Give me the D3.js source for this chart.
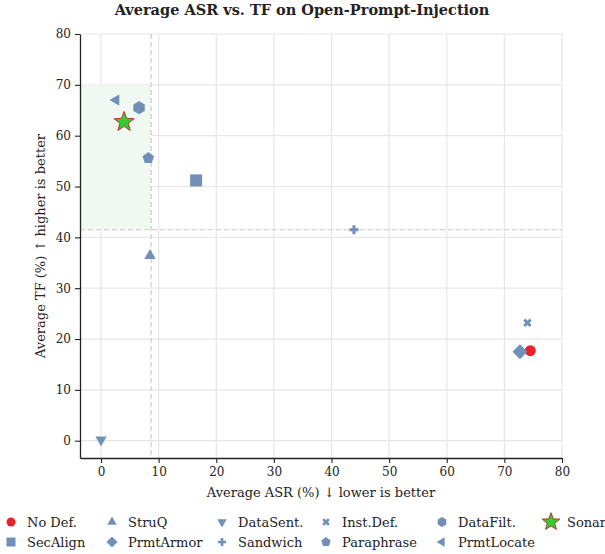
<!DOCTYPE html>
<html>
<head>
<meta charset="utf-8">
<script src="https://cdn.jsdelivr.net/npm/d3@7"></script>
<style>
  body { margin: 0; background: #fff; }
  svg text { font-family: "DejaVu Serif", serif; fill: #222; }
</style>
</head>
<body>
<div id="chart"></div>
<script>
const methods = ["No Def.", "StruQ", "DataSent.", "Inst.Def.", "DataFilt.", "Sonar",
                 "SecAlign", "PrmtArmor", "Sandwich", "Paraphrase", "PrmtLocate"];
const asr = [74.5, 8.5, 0.0, 74.0, 6.6, 4.0, 16.5, 72.7, 43.9, 8.2, 2.6];
const tf = [17.7, 36.4, 0.2, 23.2, 65.5, 62.7, 51.2, 17.5, 41.5, 55.6, 67.0];
const shapes = ["circle", "triUp", "triDown", "cross", "hexagon", "star",
                "square", "diamond", "plus", "pentagon", "triLeft"];
const xTicks = [0, 10, 20, 30, 40, 50, 60, 70, 80];
const yTicks = [0, 10, 20, 30, 40, 50, 60, 70, 80];
const thresholdAsr = 8.7;
const thresholdTf = 41.5;
const goodRegionTop = 70;

const W = 605, H = 554;
const steel = "#7090b8";

const svg = d3.select("#chart").append("svg")
  .attr("width", W).attr("height", H);

const x = d3.scaleLinear().domain([-3.65, 80]).range([80, 562]);
const y = d3.scaleLinear().domain([-3.4, 80]).range([458, 34]);

// grid
svg.append("g").selectAll("line").data(xTicks).enter().append("line")
  .attr("x1", d => x(d)).attr("x2", d => x(d))
  .attr("y1", y(80)).attr("y2", y(-3.4))
  .attr("stroke", "#e6e6e6").attr("stroke-width", 1.2);
svg.append("g").selectAll("line").data(yTicks).enter().append("line")
  .attr("x1", x(-3.65)).attr("x2", x(80))
  .attr("y1", d => y(d)).attr("y2", d => y(d))
  .attr("stroke", "#e6e6e6").attr("stroke-width", 1.2);

// good region
svg.append("rect")
  .attr("x", x(-3.65)).attr("y", y(goodRegionTop))
  .attr("width", x(thresholdAsr) - x(-3.65))
  .attr("height", y(thresholdTf) - y(goodRegionTop))
  .attr("fill", "#f1f8f1");

// threshold lines
svg.append("line")
  .attr("x1", x(thresholdAsr)).attr("x2", x(thresholdAsr))
  .attr("y1", y(80)).attr("y2", y(-3.4))
  .attr("stroke", "#cccccc").attr("stroke-dasharray", "5,3").attr("stroke-width", 1.2);
svg.append("line")
  .attr("x1", x(-3.65)).attr("x2", x(80))
  .attr("y1", y(thresholdTf)).attr("y2", y(thresholdTf))
  .attr("stroke", "#cccccc").attr("stroke-dasharray", "5,3").attr("stroke-width", 1.2);

// axes
const xAxis = svg.append("g").attr("transform", `translate(0,458)`)
  .call(d3.axisBottom(x).tickValues(xTicks).tickSize(5).tickSizeOuter(0).tickPadding(4));
const yAxis = svg.append("g").attr("transform", `translate(80,0)`)
  .call(d3.axisLeft(y).tickValues(yTicks).tickSize(5).tickSizeOuter(0).tickPadding(4));
[xAxis, yAxis].forEach(a => {
  a.selectAll("text").style("font-size", "12px").style("font-family", "DejaVu Serif");
  a.select(".domain").attr("stroke", "#222").attr("stroke-width", 1.3);
  a.selectAll(".tick line").attr("stroke", "#222").attr("stroke-width", 1.1);
});

// marker paths
function markerPath(shape, s) {
  const p = d3.path();
  const poly = (n, r, rot) => {
    for (let i = 0; i < n; i++) {
      const a = rot + i * 2 * Math.PI / n;
      const px = r * Math.cos(a), py = r * Math.sin(a);
      i === 0 ? p.moveTo(px, py) : p.lineTo(px, py);
    }
    p.closePath();
  };
  if (shape === "circle") { p.arc(0, 0, s * 0.5, 0, 2 * Math.PI); }
  else if (shape === "square") { p.rect(-s * 0.5, -s * 0.5, s, s); }
  else if (shape === "diamond") { poly(4, s * 0.62, 0); }
  else if (shape === "triUp") { poly(3, s * 0.6, -Math.PI / 2); }
  else if (shape === "triDown") { poly(3, s * 0.6, Math.PI / 2); }
  else if (shape === "triLeft") { poly(3, s * 0.6, Math.PI); }
  else if (shape === "hexagon") { poly(6, s * 0.55, -Math.PI / 2); }
  else if (shape === "pentagon") { poly(5, s * 0.55, -Math.PI / 2); }
  else if (shape === "star") {
    for (let i = 0; i < 10; i++) {
      const r = i % 2 === 0 ? s * 0.62 : s * 0.26;
      const a = -Math.PI / 2 + i * Math.PI / 5;
      i === 0 ? p.moveTo(r * Math.cos(a), r * Math.sin(a)) : p.lineTo(r * Math.cos(a), r * Math.sin(a));
    }
    p.closePath();
  }
  return p.toString();
}

function drawMarker(g, shape, s) {
  if (shape === "cross" || shape === "plus") {
    const h = s * 0.45;
    const rot = shape === "cross" ? 45 : 0;
    g.append("path")
      .attr("d", `M${-h},0L${h},0M0,${-h}L0,${h}`)
      .attr("transform", `rotate(${rot})`)
      .attr("stroke", steel).attr("stroke-width", s * 0.3).attr("fill", "none");
    return;
  }
  const el = g.append("path").attr("d", markerPath(shape, s));
  if (shape === "circle") el.attr("fill", "#e8232a");
  else if (shape === "star") el.attr("fill", "#33cc33").attr("stroke", "#b03a2e").attr("stroke-width", 1);
  else el.attr("fill", steel);
}

const sizes = { circle: 11, square: 12, diamond: 12, triUp: 11, triDown: 11, triLeft: 11,
                hexagon: 12, pentagon: 11, star: 17, cross: 10, plus: 10 };

// points (star drawn last)
const order = d3.range(methods.length).sort((a, b) =>
  (shapes[a] === "star") - (shapes[b] === "star"));
order.forEach(i => {
  const g = svg.append("g").attr("transform", `translate(${x(asr[i])},${y(tf[i])})`);
  drawMarker(g, shapes[i], sizes[shapes[i]]);
});

// title & labels
svg.append("text").attr("x", 302).attr("y", 15).attr("text-anchor", "middle")
  .style("font-size", "14.5px").style("font-weight", "bold")
  .text("Average ASR vs. TF on Open-Prompt-Injection");
svg.append("text").attr("x", 321).attr("y", 497).attr("text-anchor", "middle")
  .style("font-size", "13px").text("Average ASR (%) ↓ lower is better");
svg.append("text").attr("transform", "translate(45,246) rotate(-90)").attr("text-anchor", "middle")
  .style("font-size", "13px").text("Average TF (%) ↑ higher is better");

// legend
const colX = [11, 112, 222, 326, 442, 551];
const rowY = [522, 542];
methods.forEach((m, i) => {
  const col = i % 6, row = Math.floor(i / 6);
  const g = svg.append("g").attr("transform", `translate(${colX[col]},${rowY[row]})`);
  drawMarker(g, shapes[i], shapes[i] === "star" ? 15 : 9);
  svg.append("text").attr("x", colX[col] + 16).attr("y", rowY[row] + 4.5)
    .style("font-size", "13px").text(m);
});
</script>
</body>
</html>
